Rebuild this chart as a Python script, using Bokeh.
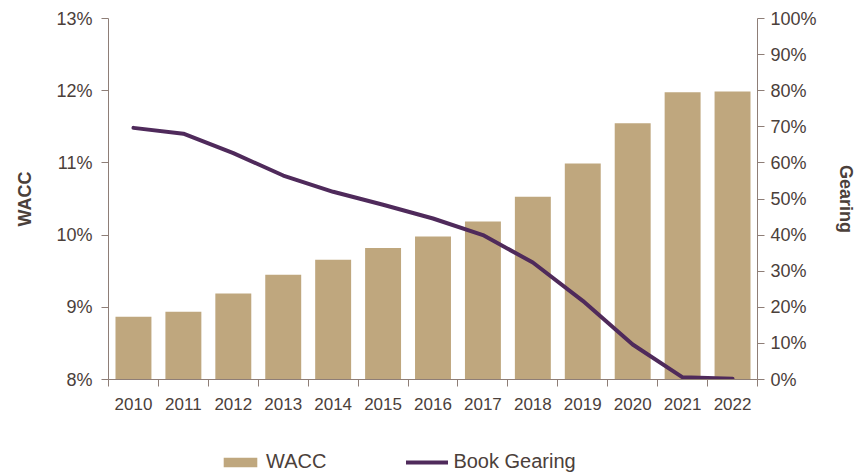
from bokeh.plotting import figure
from bokeh.layouts import column
from bokeh.models import (Range1d, LinearAxis, FixedTicker, NumeralTickFormatter,
                          Legend, LegendItem, ColumnDataSource)
from bokeh.embed import file_html
from bokeh.resources import INLINE

years = ["2010", "2011", "2012", "2013", "2014", "2015", "2016",
         "2017", "2018", "2019", "2020", "2021", "2022"]
wacc = [0.0887, 0.0894, 0.0919, 0.0945, 0.0966, 0.0982, 0.0998,
        0.1019, 0.1053, 0.1099, 0.1155, 0.1198, 0.1199]
gearing = [0.697, 0.681, 0.627, 0.565, 0.520, 0.484, 0.446,
           0.400, 0.324, 0.218, 0.097, 0.006, 0.002]
wacc_ticks = [0.08, 0.09, 0.10, 0.11, 0.12, 0.13]
gearing_ticks = [0.0, 0.1, 0.2, 0.3, 0.4, 0.5, 0.6, 0.7, 0.8, 0.9, 1.0]

idx = list(range(len(years)))
src = ColumnDataSource(dict(x=idx, year=years, wacc=wacc, gearing=gearing,
                            base=[wacc_ticks[0]] * len(years)))

FONT = "Liberation Sans"
TXT = "#4b403a"
AX = "#8e7e77"
BAR = "#bfa77e"
LINE = "#4f2a5b"

p = figure(width=858, height=445, output_backend="svg", toolbar_location=None,
           x_range=Range1d(-0.5, len(years) - 0.5),
           y_range=Range1d(wacc_ticks[0], wacc_ticks[-1]),
           min_border_left=108, min_border_right=100,
           min_border_top=18, min_border_bottom=66)
p.extra_y_ranges = {"gearing": Range1d(gearing_ticks[0], gearing_ticks[-1])}

p.xgrid.visible = False
p.ygrid.visible = False
p.outline_line_color = None
p.background_fill_color = "white"
p.border_fill_color = "white"

bars = p.vbar(x="x", top="wacc", bottom="base", width=0.72, source=src,
              fill_color=BAR, line_color=None)
ln = p.line(x="x", y="gearing", source=src, y_range_name="gearing",
            line_color=LINE, line_width=4, line_cap="round", line_join="round")

# bottom axis
xa = p.xaxis[0]
xa.ticker = FixedTicker(ticks=idx, minor_ticks=[i - 0.5 for i in range(len(years) + 1)])
xa.major_label_overrides = {i: y for i, y in zip(idx, years)}
xa.major_tick_out = 0
xa.major_tick_in = 0
xa.minor_tick_out = 7
xa.minor_tick_in = 0
xa.minor_tick_line_color = AX
xa.axis_line_color = AX
xa.major_label_text_font = FONT
xa.major_label_text_font_size = "17px"
xa.major_label_text_color = TXT
xa.major_label_standoff = 11

# left axis
ya = p.yaxis[0]
ya.ticker = FixedTicker(ticks=wacc_ticks)
ya.formatter = NumeralTickFormatter(format="0%")
ya.minor_tick_line_color = None
ya.major_tick_out = 7
ya.major_tick_in = 0
ya.major_tick_line_color = AX
ya.axis_line_color = AX
ya.major_label_text_font = FONT
ya.major_label_text_font_size = "18px"
ya.major_label_text_color = TXT
ya.major_label_standoff = 9
ya.axis_label = "WACC"
ya.axis_label_text_font = FONT
ya.axis_label_text_font_size = "18px"
ya.axis_label_text_font_style = "bold"
ya.axis_label_text_color = TXT
ya.axis_label_standoff = 18

# right axis
ra = LinearAxis(y_range_name="gearing",
                ticker=FixedTicker(ticks=gearing_ticks),
                formatter=NumeralTickFormatter(format="0%"))
ra.minor_tick_line_color = None
ra.major_tick_out = 7
ra.major_tick_in = 0
ra.major_tick_line_color = AX
ra.axis_line_color = AX
ra.major_label_text_font = FONT
ra.major_label_text_font_size = "18px"
ra.major_label_text_color = TXT
ra.major_label_standoff = 6
ra.axis_label = "Gearing"
ra.axis_label_text_font = FONT
ra.axis_label_text_font_size = "18px"
ra.axis_label_text_font_style = "bold"
ra.axis_label_text_color = TXT
ra.axis_label_standoff = 16
p.add_layout(ra, "right")

# legend strip below the chart (glyphs kept outside its visible range)
lf = figure(width=858, height=28, output_backend="svg", toolbar_location=None,
            x_range=Range1d(1000, 1001), y_range=Range1d(1000, 1001),
            min_border=0)
lf.extra_y_ranges = {"gearing": Range1d(1000, 1001)}
lf.axis.visible = False
lf.grid.visible = False
lf.outline_line_color = None
lf_bars = lf.vbar(x="x", top="wacc", bottom="base", width=0.72, source=src,
                  fill_color=BAR, line_color=None)
lf_ln = lf.line(x="x", y="gearing", source=src, y_range_name="gearing",
                line_color=LINE, line_width=4, line_cap="round")

legend = Legend(items=[LegendItem(label="WACC", renderers=[lf_bars]),
                       LegendItem(label="Book Gearing", renderers=[lf_ln])],
                orientation="horizontal", location=(111, 0),
                border_line_color=None, background_fill_alpha=0,
                label_text_font=FONT, label_text_font_size="20px",
                label_text_color=TXT, glyph_width=42, glyph_height=12,
                label_standoff=5, spacing=80, padding=0, margin=0)
lf.add_layout(legend, "center")

layout = column(p, lf, spacing=0)
open("out.html", "w").write(file_html(layout, INLINE))
